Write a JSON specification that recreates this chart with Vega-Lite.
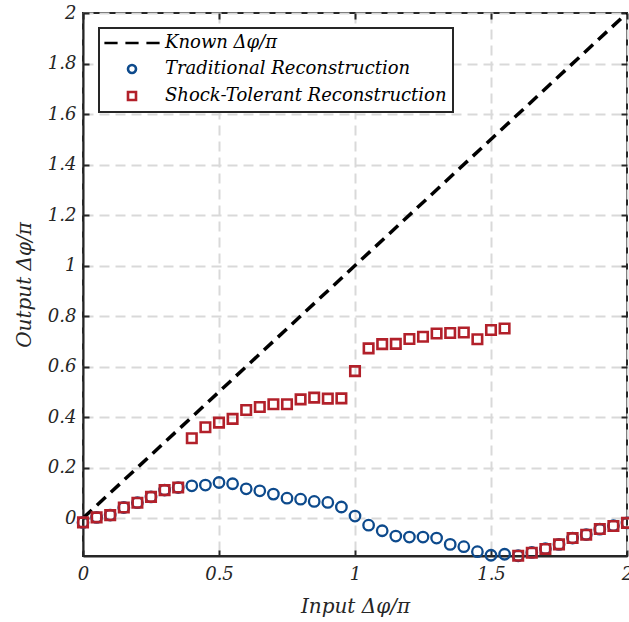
{
  "$schema": "https://vega.github.io/schema/vega-lite/v6.json",
  "width": 544,
  "height": 543,
  "autosize": {"type": "none"},
  "padding": {"left": 83, "top": 13, "right": 2, "bottom": 66},
  "background": "white",
  "config": {
    "view": {"stroke": "#262626", "strokeWidth": 2},
    "font": "DejaVu Serif",
    "axis": {
      "labelFont": "DejaVu Serif",
      "labelFontStyle": "italic",
      "labelFontSize": 18,
      "labelColor": "#262626",
      "titleFont": "DejaVu Serif",
      "titleFontStyle": "italic",
      "titleFontWeight": "normal",
      "titleFontSize": 20,
      "titleColor": "#262626",
      "domainColor": "#262626",
      "domainWidth": 2,
      "tickColor": "#262626",
      "tickWidth": 2,
      "tickSize": -6,
      "gridColor": "#d9d9d9",
      "gridWidth": 2,
      "gridDash": [10, 6]
    },
    "legend": {
      "orient": "none", "legendX": 16, "legendY": 15,
      "fillColor": "white", "strokeColor": "#262626", "strokeWidth": 2,
      "padding": 6,
      "labelFont": "DejaVu Serif", "labelFontStyle": "italic", "labelFontSize": 18, "labelColor": "#000000",
      "labelOffset": 24, "rowPadding": 7,
      "symbolStrokeWidth": 2.6, "symbolSize": 64, "symbolFillColor": "transparent",
      "symbolOffset": 18, "labelLimit": 400
    }
  },
  "datasets": {
    "known": [
      {"x": 0, "y": 0, "series": "Known Δφ/π"},
      {"x": 2, "y": 2, "series": "Known Δφ/π"}
    ],
    "traditional": [
      {"x": 0.00, "y": -0.017}, {"x": 0.05, "y": 0.003}, {"x": 0.10, "y": 0.012}, {"x": 0.15, "y": 0.042},
      {"x": 0.20, "y": 0.061}, {"x": 0.25, "y": 0.084}, {"x": 0.30, "y": 0.111}, {"x": 0.35, "y": 0.121},
      {"x": 0.40, "y": 0.128}, {"x": 0.45, "y": 0.131}, {"x": 0.50, "y": 0.141}, {"x": 0.55, "y": 0.136},
      {"x": 0.60, "y": 0.116}, {"x": 0.65, "y": 0.108}, {"x": 0.70, "y": 0.095}, {"x": 0.75, "y": 0.079},
      {"x": 0.80, "y": 0.075}, {"x": 0.85, "y": 0.066}, {"x": 0.90, "y": 0.062}, {"x": 0.95, "y": 0.044},
      {"x": 1.00, "y": 0.008}, {"x": 1.05, "y": -0.028}, {"x": 1.10, "y": -0.050}, {"x": 1.15, "y": -0.071},
      {"x": 1.20, "y": -0.075}, {"x": 1.25, "y": -0.075}, {"x": 1.30, "y": -0.079}, {"x": 1.35, "y": -0.104},
      {"x": 1.40, "y": -0.113}, {"x": 1.45, "y": -0.133}, {"x": 1.50, "y": -0.147}, {"x": 1.55, "y": -0.143},
      {"x": 1.60, "y": -0.149}, {"x": 1.65, "y": -0.136}, {"x": 1.70, "y": -0.121}, {"x": 1.75, "y": -0.104},
      {"x": 1.80, "y": -0.079}, {"x": 1.85, "y": -0.065}, {"x": 1.90, "y": -0.044}, {"x": 1.95, "y": -0.030},
      {"x": 2.00, "y": -0.019}
    ],
    "shock": [
      {"x": 0.00, "y": -0.017}, {"x": 0.05, "y": 0.003}, {"x": 0.10, "y": 0.012}, {"x": 0.15, "y": 0.042},
      {"x": 0.20, "y": 0.061}, {"x": 0.25, "y": 0.084}, {"x": 0.30, "y": 0.111}, {"x": 0.35, "y": 0.121},
      {"x": 0.40, "y": 0.316}, {"x": 0.45, "y": 0.360}, {"x": 0.50, "y": 0.378}, {"x": 0.55, "y": 0.393},
      {"x": 0.60, "y": 0.428}, {"x": 0.65, "y": 0.440}, {"x": 0.70, "y": 0.451}, {"x": 0.75, "y": 0.451},
      {"x": 0.80, "y": 0.470}, {"x": 0.85, "y": 0.477}, {"x": 0.90, "y": 0.473}, {"x": 0.95, "y": 0.474},
      {"x": 1.00, "y": 0.582}, {"x": 1.05, "y": 0.672}, {"x": 1.10, "y": 0.689}, {"x": 1.15, "y": 0.690},
      {"x": 1.20, "y": 0.709}, {"x": 1.25, "y": 0.718}, {"x": 1.30, "y": 0.731}, {"x": 1.35, "y": 0.733},
      {"x": 1.40, "y": 0.735}, {"x": 1.45, "y": 0.708}, {"x": 1.50, "y": 0.745}, {"x": 1.55, "y": 0.751},
      {"x": 1.60, "y": -0.149}, {"x": 1.65, "y": -0.137}, {"x": 1.70, "y": -0.122}, {"x": 1.75, "y": -0.104},
      {"x": 1.80, "y": -0.079}, {"x": 1.85, "y": -0.066}, {"x": 1.90, "y": -0.043}, {"x": 1.95, "y": -0.031},
      {"x": 2.00, "y": -0.019}
    ]
  },
  "layer": [
    {
      "data": {"name": "known"},
      "mark": {"type": "line", "strokeWidth": 3.5, "strokeDash": [12, 7], "clip": true},
      "encoding": {
        "x": {
          "field": "x", "type": "quantitative",
          "scale": {"domain": [0, 2], "nice": false, "zero": false},
          "axis": {"title": "Input Δφ/π", "values": [0, 0.5, 1, 1.5, 2], "format": "~g", "labelPadding": 15, "grid": true, "titlePadding": 13, "labelFlush": false}
        },
        "y": {
          "field": "y", "type": "quantitative",
          "scale": {"domain": [-0.15, 2], "nice": false, "zero": false},
          "axis": {"title": "Output Δφ/π", "values": [0, 0.2, 0.4, 0.6, 0.8, 1, 1.2, 1.4, 1.6, 1.8, 2], "format": "~g", "labelPadding": 13, "grid": true, "titlePadding": 13, "labelFlush": false}
        },
        "stroke": {
          "field": "series", "type": "nominal",
          "scale": {
            "domain": ["Known Δφ/π", "Traditional Reconstruction", "Shock-Tolerant Reconstruction"],
            "range": ["#000000", "#0d4a8c", "#b2202a"]
          },
          "title": null
        }
      }
    },
    {
      "data": {"name": "traditional"},
      "transform": [{"calculate": "'Traditional Reconstruction'", "as": "series"}],
      "mark": {"type": "point", "filled": false, "opacity": 1, "strokeWidth": 2.3, "size": 110, "clip": false},
      "encoding": {
        "x": {"field": "x", "type": "quantitative",
          "axis": {"orient": "top", "title": null, "labels": false, "grid": false, "values": [0, 0.5, 1, 1.5, 2], "domain": false}},
        "y": {"field": "y", "type": "quantitative",
          "axis": {"orient": "right", "title": null, "labels": false, "grid": false, "values": [0, 0.2, 0.4, 0.6, 0.8, 1, 1.2, 1.4, 1.6, 1.8, 2], "domain": false}},
        "stroke": {"field": "series", "type": "nominal", "title": null},
        "shape": {"field": "series", "type": "nominal", "title": null,
          "scale": {
            "domain": ["Known Δφ/π", "Traditional Reconstruction", "Shock-Tolerant Reconstruction"],
            "range": ["M-6.9,0H-3.6M-1.65,0H1.65M3.6,0H6.9", "circle", "square"]
          }}
      }
    },
    {
      "data": {"name": "shock"},
      "transform": [{"calculate": "'Shock-Tolerant Reconstruction'", "as": "series"}],
      "mark": {"type": "point", "filled": false, "opacity": 1, "strokeWidth": 2.6, "size": 90, "clip": false},
      "encoding": {
        "x": {"field": "x", "type": "quantitative", "axis": null},
        "y": {"field": "y", "type": "quantitative", "axis": null},
        "stroke": {"field": "series", "type": "nominal", "title": null},
        "shape": {"field": "series", "type": "nominal", "title": null}
      }
    }
  ],
  "resolve": {"axis": {"x": "independent", "y": "independent"}}
}
